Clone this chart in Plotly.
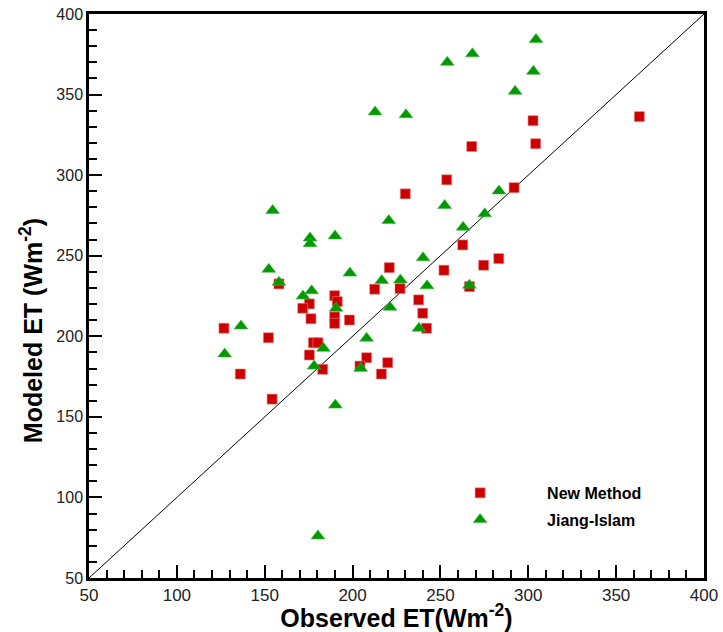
import plotly.graph_objects as go

# Observed vs modeled evapotranspiration (W m^-2)
new_obs = [126.8, 152.1, 136.1, 154.2, 158.1, 175.4, 171.6, 176.3, 189.8, 191.3,
           189.8, 189.8, 198.2, 177.7, 180.3, 175.4, 183.0, 208.0, 204.2, 220.0,
           216.4, 212.6, 227.0, 230.0, 220.9, 252.0, 262.7, 274.6, 283.2, 266.5,
           237.6, 239.9, 242.1, 291.9, 253.6, 267.8, 302.7, 304.2, 363.2]
new_mod = [205.0, 199.1, 176.6, 161.0, 232.5, 220.1, 217.4, 210.9, 225.2, 221.5,
           212.0, 208.0, 210.1, 196.0, 196.0, 188.4, 179.5, 186.7, 181.5, 183.6,
           176.6, 229.2, 229.6, 288.4, 242.6, 241.0, 256.7, 244.1, 248.2, 230.8,
           222.6, 214.3, 205.0, 292.2, 297.1, 317.8, 333.8, 319.5, 336.3]

ji_obs = [127.2, 136.5, 152.3, 154.5, 158.1, 171.8, 176.7, 175.8, 175.8, 190.0,
          198.5, 190.6, 183.4, 178.1, 190.2, 180.3, 208.0, 204.6, 221.3, 216.6,
          227.2, 220.6, 212.8, 230.4, 242.4, 240.1, 237.8, 252.4, 262.9, 266.5,
          275.2, 283.3, 253.9, 268.2, 292.5, 302.9, 304.4]
ji_mod = [189.0, 206.4, 241.6, 278.1, 233.5, 225.0, 228.2, 261.0, 257.5, 262.3,
          239.2, 217.4, 192.5, 181.5, 157.3, 76.1, 198.8, 180.1, 218.0, 234.6,
          235.0, 271.8, 339.2, 337.5, 231.3, 248.7, 205.0, 281.2, 267.7, 231.7,
          276.0, 290.2, 370.0, 375.3, 352.0, 364.4, 384.2]

axis_range = [50, 400]
tick_values = [50, 100, 150, 200, 250, 300, 350, 400]

fig = go.Figure()

# 1:1 reference line
fig.add_trace(go.Scatter(
    x=axis_range, y=axis_range, mode="lines",
    line=dict(color="black", width=1), showlegend=False, hoverinfo="skip"))

fig.add_trace(go.Scatter(
    x=new_obs, y=new_mod, mode="markers", name="New Method", legendgroup="a",
    marker=dict(symbol="square", size=10, color="#CC0000",
                line=dict(width=0.6, color="#E88080"))))

fig.add_trace(go.Scatter(
    x=ji_obs, y=ji_mod, mode="markers", name="Jiang-Islam", legendgroup="b",
    marker=dict(symbol="triangle-up", size=12, color="#009900",
                line=dict(width=0.6, color="#40B840"))))

axis_common = dict(
    range=axis_range, tickvals=tick_values, automargin=False,
    ticks="inside", ticklen=13, tickwidth=2, tickcolor="black",
    minor=dict(dtick=10, ticks="inside", ticklen=8, tickwidth=1.5, tickcolor="black"),
    showline=True, linewidth=2.5, linecolor="black", mirror=True,
    showgrid=False, zeroline=False,
)

fig.update_layout(
    width=723, height=632,
    margin=dict(l=89, r=19, t=14, b=54),
    paper_bgcolor="white", plot_bgcolor="white",
    xaxis=dict(
        **axis_common,
        tickfont=dict(family="Liberation Sans", size=17, color="#222222"),
        title=dict(text="Observed ET(Wm<sup>-2</sup>)", standoff=5,
                   font=dict(family="Liberation Sans", size=25,
                             color="black", weight="bold")),
    ),
    yaxis=dict(
        **axis_common,
        tickfont=dict(family="Liberation Sans", size=16, color="#222222"),
    ),
    annotations=[dict(
        text="Modeled ET (Wm<sup>-2</sup>)", textangle=-90,
        xref="paper", yref="paper", x=-0.094, y=0.438,
        xanchor="center", yanchor="middle", showarrow=False,
        font=dict(family="Liberation Sans", size=25, color="black", weight="bold"),
    )],
    legend=dict(
        x=0.527, y=0.181, xanchor="left", yanchor="top",
        bgcolor="rgba(0,0,0,0)", borderwidth=0,
        itemwidth=124, tracegroupgap=3,
        font=dict(family="Liberation Sans", size=16, color="black", weight="bold"),
    ),
    showlegend=True,
)

fig.write_html("out.html")
